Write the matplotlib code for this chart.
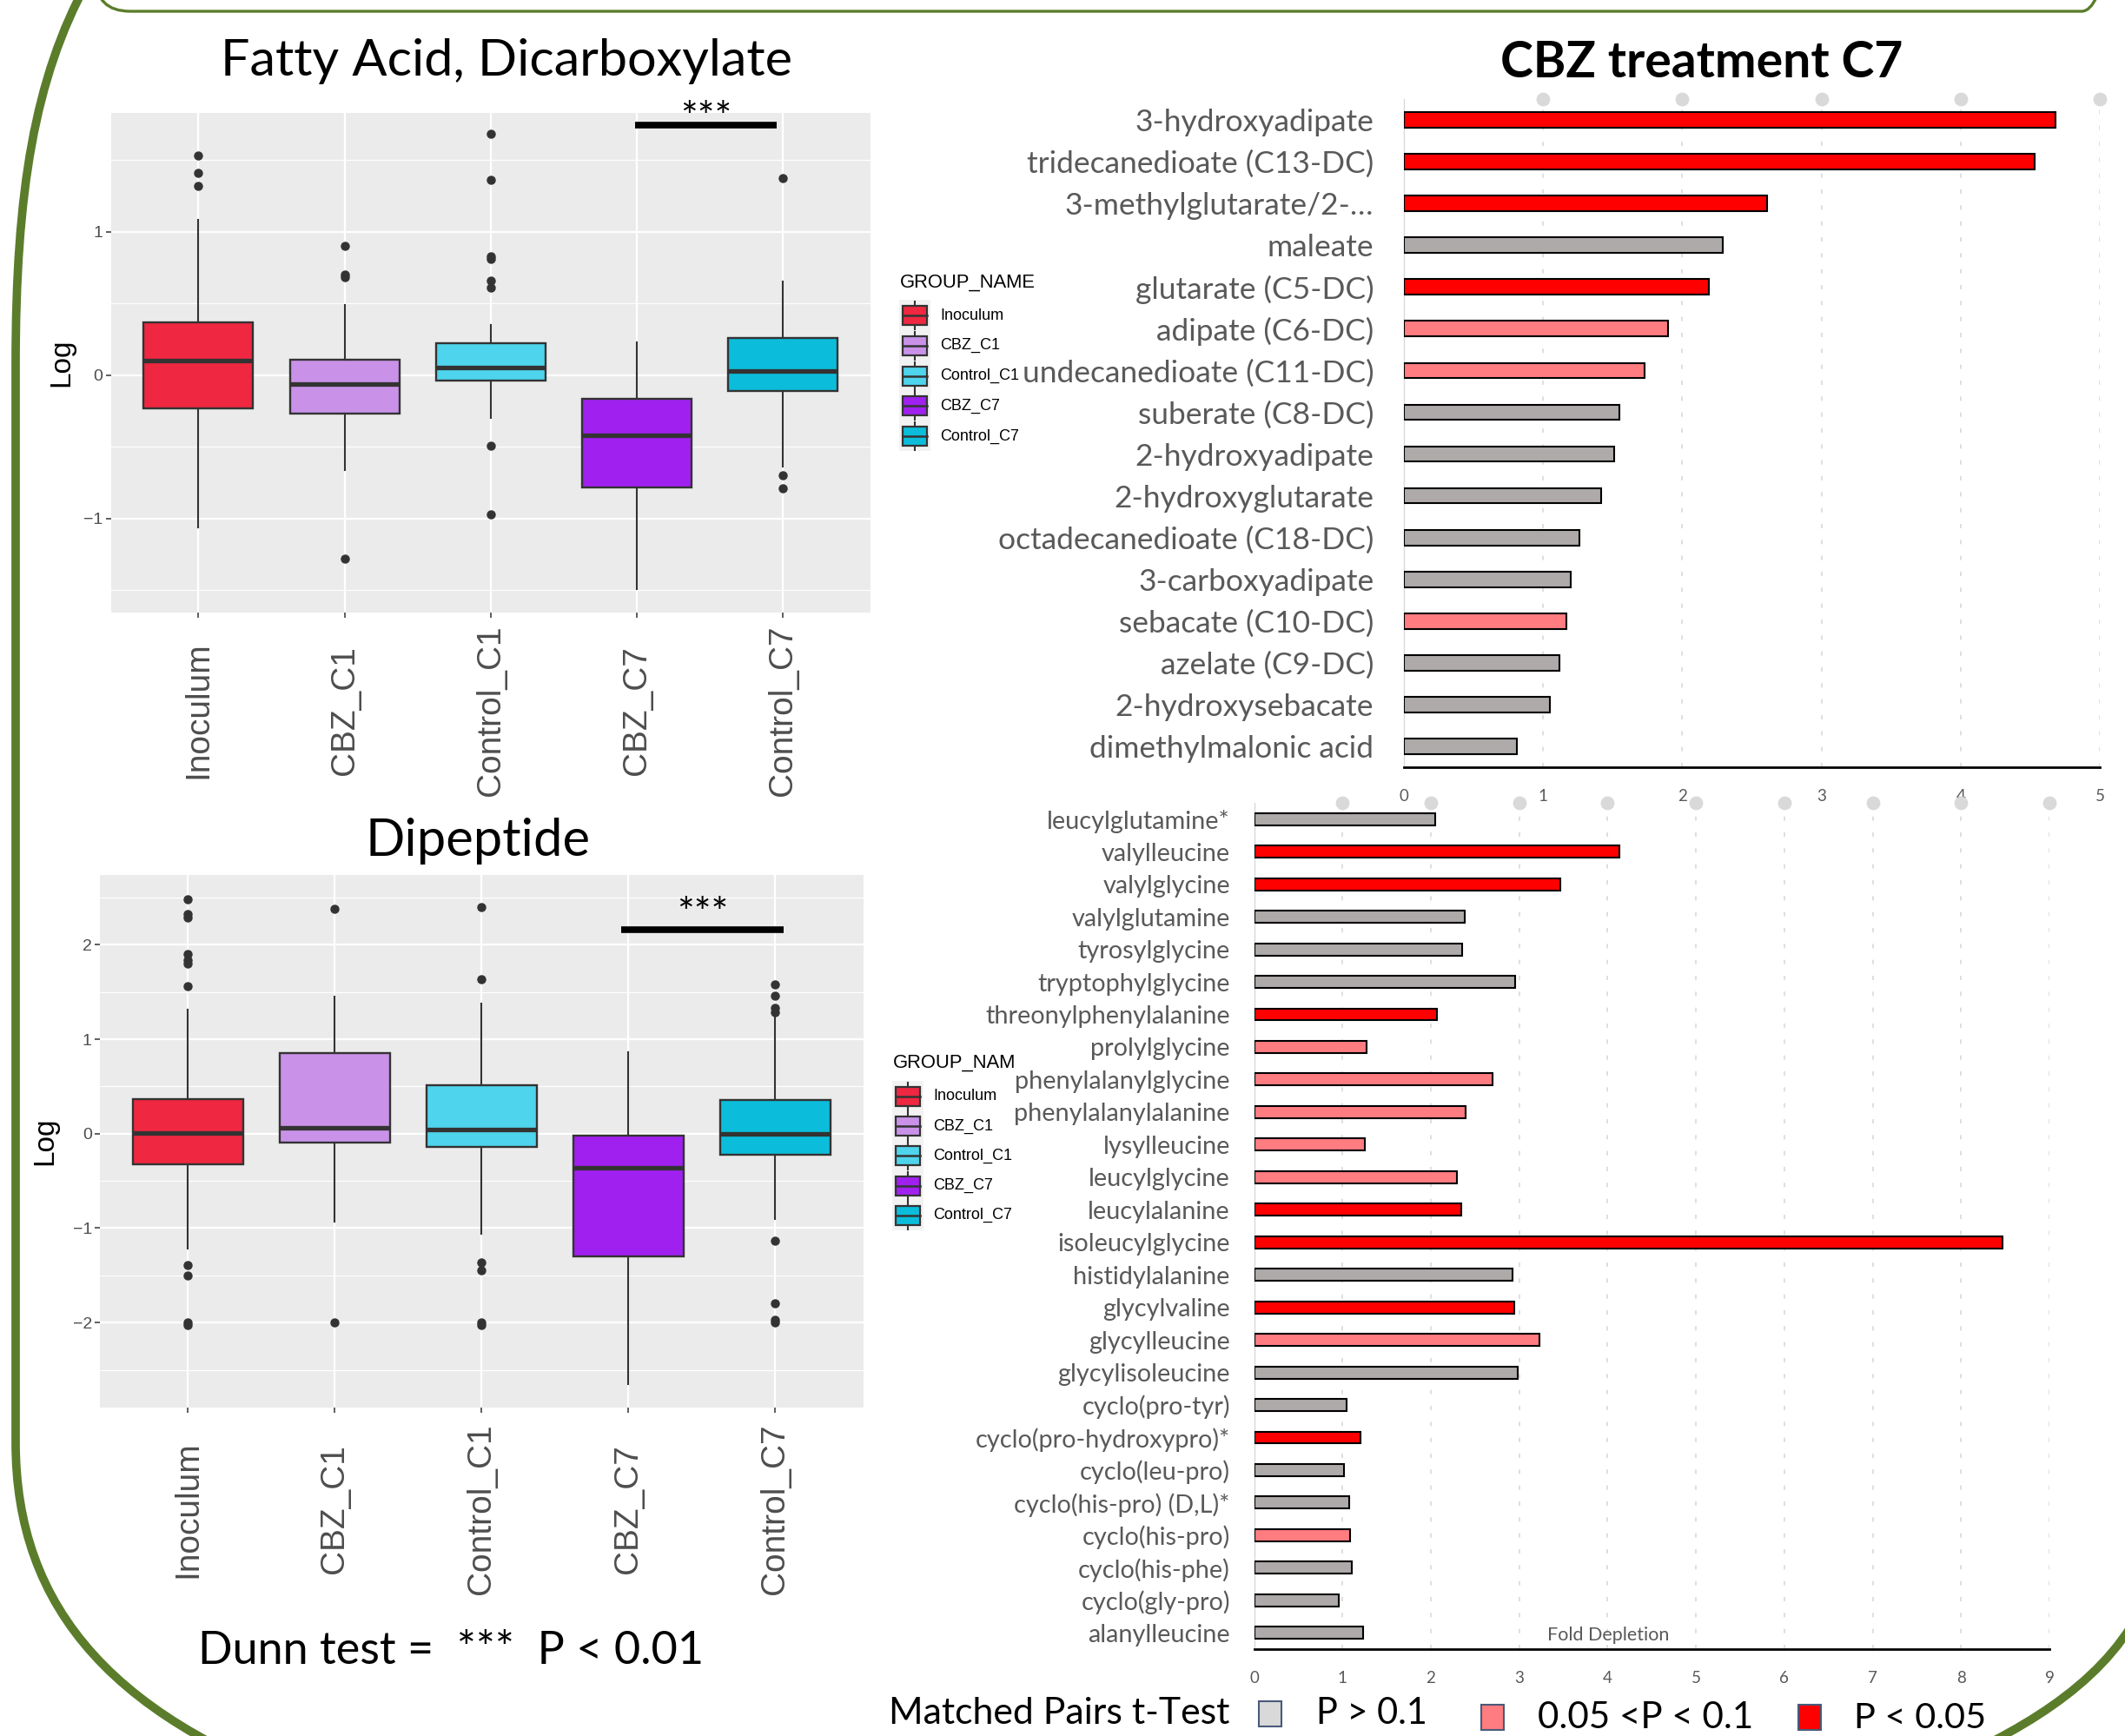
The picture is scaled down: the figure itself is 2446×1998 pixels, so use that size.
import numpy as np
import matplotlib
matplotlib.use("Agg")
import matplotlib.pyplot as plt
from matplotlib.patches import FancyBboxPatch, PathPatch, Rectangle
from matplotlib.path import Path

plt.rcParams['font.family'] = ['Liberation Sans', 'DejaVu Sans']
LATO = ['Lato', 'DejaVu Sans']

# ---------------- data ----------------
groups = ["Inoculum", "CBZ_C1", "Control_C1", "CBZ_C7", "Control_C7"]
group_colors = ["#EF2740", "#C992E8", "#4ED4EC", "#A020F0", "#0BBDDB"]

# Fatty Acid, Dicarboxylate (log values)
fa_q1 = [-0.23, -0.27, -0.04, -0.78, -0.11]
fa_med = [0.10, -0.06, 0.054, -0.42, 0.027]
fa_q3 = [0.37, 0.105, 0.22, -0.165, 0.26]
fa_lo = [-1.06, -0.66, -0.30, -1.49, -0.64]
fa_hi = [1.08, 0.49, 0.35, 0.23, 0.65]
fa_out = [[1.53, 1.41, 1.32],
          [0.90, 0.70, 0.68, -1.28],
          [1.68, 1.36, 0.83, 0.81, 0.66, 0.61, -0.49, -0.97],
          [],
          [1.37, -0.70, -0.79]]

# Dipeptide (log values)
dp_q1 = [-0.32, -0.09, -0.14, -1.295, -0.225]
dp_med = [0.006, 0.064, 0.045, -0.36, 0.0]
dp_q3 = [0.367, 0.857, 0.515, -0.02, 0.36]
dp_lo = [-1.22, -0.93, -1.06, -2.65, -0.90]
dp_hi = [1.31, 1.45, 1.38, 0.863, 1.24]
dp_out = [[2.48, 2.33, 2.29, 1.90, 1.84, 1.80, 1.56, -1.39, -1.50, -2.0, -2.03],
          [2.38, -2.0],
          [2.40, 1.64, -1.36, -1.45, -2.0, -2.03],
          [],
          [1.58, 1.46, 1.33, 1.29, -1.13, -1.80, -1.97, -2.0]]

fa_sig_pair = [3.99, 4.96]
fa_sig_y = 1.745
fa_star_y = 1.785
dp_sig_pair = [3.95, 5.06]
dp_sig_y = 2.16
dp_star_y = 2.32

# CBZ treatment C7 fold depletion
fa_labels = ["3-hydroxyadipate", "tridecanedioate (C13-DC)", "3-methylglutarate/2-\u2026",
             "maleate", "glutarate (C5-DC)", "adipate (C6-DC)", "undecanedioate (C11-DC)",
             "suberate (C8-DC)", "2-hydroxyadipate", "2-hydroxyglutarate",
             "octadecanedioate (C18-DC)", "3-carboxyadipate", "sebacate (C10-DC)",
             "azelate (C9-DC)", "2-hydroxysebacate", "dimethylmalonic acid"]
fa_fold = [4.68, 4.53, 2.61, 2.29, 2.19, 1.90, 1.73, 1.55, 1.51, 1.42, 1.26, 1.20,
           1.17, 1.12, 1.05, 0.81]
fa_sig = ["p05", "p05", "p05", "ns", "p05", "p10", "p10", "ns", "ns", "ns", "ns", "ns",
          "p10", "ns", "ns", "ns"]

dp_labels = ["leucylglutamine*", "valylleucine", "valylglycine", "valylglutamine",
             "tyrosylglycine", "tryptophylglycine", "threonylphenylalanine", "prolylglycine",
             "phenylalanylglycine", "phenylalanylalanine", "lysylleucine", "leucylglycine",
             "leucylalanine", "isoleucylglycine", "histidylalanine", "glycylvaline",
             "glycylleucine", "glycylisoleucine", "cyclo(pro-tyr)", "cyclo(pro-hydroxypro)*",
             "cyclo(leu-pro)", "cyclo(his-pro) (D,L)*", "cyclo(his-pro)", "cyclo(his-phe)",
             "cyclo(gly-pro)", "alanylleucine"]
dp_fold = [2.05, 4.13, 3.46, 2.38, 2.35, 2.95, 2.07, 1.27, 2.70, 2.39, 1.25, 2.29, 2.34,
           8.47, 2.92, 2.94, 3.23, 2.98, 1.05, 1.20, 1.02, 1.08, 1.09, 1.11, 0.96, 1.23]
dp_sig = ["ns", "p05", "p05", "ns", "ns", "ns", "p05", "p10", "p10", "p10", "p10", "p10",
          "p05", "p05", "ns", "p05", "p10", "ns", "ns", "p05", "ns", "ns", "p10", "ns",
          "ns", "ns"]

sig_colors = {"ns": "#AEAAAA", "p10": "#FF7C80", "p05": "#FF0000"}
sig_legend_colors = {"ns": "#D9D9D9", "p10": "#FF7C80", "p05": "#FF0000"}
sig_legend_text = {"ns": "P > 0.1", "p10": "0.05 <P < 0.1", "p05": "P < 0.05"}

GREEN = "#5B7D2B"
LABEL_GRAY = "#595959"

# ---------------- figure ----------------
W, H = 2446, 1998
fig = plt.figure(figsize=(W / 100, H / 100), dpi=100)
fig.patch.set_facecolor("white")


def px_axes(l, t, r, b):
    return fig.add_axes([l / W, 1 - b / H, (r - l) / W, (b - t) / H])


def fit_width(t, target):
    r = fig.canvas.get_renderer()
    for _ in range(3):
        w = t.get_window_extent(renderer=r).width
        if w > 0:
            t.set_fontsize(t.get_fontsize() * target / w)


def box_panel(ax, q1, med, q3, lo, hi, outs, ylim, major, minor, pair, sig_y, star_y,
              ylab_x):
    stats = [dict(med=m, q1=a, q3=b, whislo=l, whishi=h, fliers=np.array(o), label=g)
             for a, m, b, l, h, o, g in zip(q1, med, q3, lo, hi, outs, groups)]
    pos = np.arange(1, len(groups) + 1)
    bp = ax.bxp(stats, positions=pos, widths=0.75, patch_artist=True, showcaps=False,
                boxprops=dict(edgecolor="#333333", linewidth=1.7),
                medianprops=dict(color="#333333", linewidth=3.8, solid_capstyle="butt"),
                whiskerprops=dict(color="#333333", linewidth=1.5),
                flierprops=dict(marker="o", markerfacecolor="#333333",
                                markeredgecolor="#333333", markersize=6.5))
    for patch, c in zip(bp["boxes"], group_colors):
        patch.set_facecolor(c)
    ax.set_facecolor("#EBEBEB")
    ax.set_xlim(0.4, len(groups) + 0.6)
    ax.set_ylim(*ylim)
    ax.set_yticks(major)
    ax.set_yticklabels(["\u22122" if v == -2 else "\u22121" if v == -1 else str(v)
                        for v in major])
    ax.set_yticks(minor, minor=True)
    ax.grid(which="major", color="white", linewidth=1.6)
    ax.grid(which="minor", axis="y", color="white", linewidth=0.8)
    ax.set_axisbelow(True)
    for s in ax.spines.values():
        s.set_visible(False)
    ax.tick_params(axis="both", which="major", color="#333333", length=4, width=1.1,
                   labelcolor="#4D4D4D")
    ax.tick_params(axis="y", which="major", labelsize=14, pad=2.5)
    ax.tick_params(axis="y", which="minor", length=0)
    ax.set_xticks(pos)
    ax.set_xticklabels(groups, rotation=90, fontsize=28)
    ax.set_ylabel("Log", fontsize=24, color="black")
    ax.yaxis.set_label_coords(ylab_x, 0.5)
    ax.plot(pair, [sig_y, sig_y], color="black", linewidth=5.5, solid_capstyle="butt",
            clip_on=False, zorder=5)
    st = ax.text(np.mean(pair), star_y, "***", ha="center", va="center", family=LATO,
                 fontsize=30, clip_on=False, zorder=5)
    return st


# ---- Fatty acid boxplot ----
ax1 = px_axes(127.5, 129.5, 1002, 705)
st1 = box_panel(ax1, fa_q1, fa_med, fa_q3, fa_lo, fa_hi, fa_out, (-1.655, 1.83),
                [-1, 0, 1], [-1.5, -0.5, 0.5, 1.5], fa_sig_pair, fa_sig_y, fa_star_y, -0.0475)
ax1.tick_params(axis="x", pad=77)
for lb in ax1.get_xticklabels():
    lb.set_va("center")

# ---- Dipeptide boxplot ----
ax2 = px_axes(114.8, 1007, 993.6, 1620)
st2 = box_panel(ax2, dp_q1, dp_med, dp_q3, dp_lo, dp_hi, dp_out, (-2.90, 2.74),
                [-2, -1, 0, 1, 2], [-2.5, -1.5, -0.5, 0.5, 1.5, 2.5], dp_sig_pair,
                dp_sig_y, dp_star_y, -0.054)
ax2.tick_params(axis="x", pad=80)
for lb in ax2.get_xticklabels():
    lb.set_va("center")


# ---- bar charts ----
def bar_panel(ax, labels, fold, sig, xmax, label_size, label_pad):
    y = np.arange(len(labels))
    ax.barh(y, fold, height=0.37, color=[sig_colors[s] for s in sig], edgecolor="black",
            linewidth=1.5, zorder=3)
    ax.set_ylim(len(labels) - 0.5, -0.5)
    ax.set_xlim(0, xmax)
    ax.set_yticks(y)
    ax.set_yticklabels(labels, fontsize=label_size, color=LABEL_GRAY, family=LATO)
    ax.tick_params(axis="y", length=0, pad=label_pad)
    ax.set_xticks(np.arange(0, xmax + 1))
    ax.tick_params(axis="x", length=0, pad=18, labelsize=13.5, labelcolor=LABEL_GRAY)
    for lb in ax.get_xticklabels():
        lb.set_family(LATO)
    ax.xaxis.grid(True, color="#D9D9D9", linestyle=(0, (3, 8)), linewidth=1.2, zorder=0)
    ax.set_axisbelow(True)
    for k in ("top", "right"):
        ax.spines[k].set_visible(False)
    ax.spines["left"].set_color("#D9D9D9")
    ax.spines["left"].set_linewidth(1.0)
    ax.spines["bottom"].set_color("black")
    ax.spines["bottom"].set_linewidth(2.0)
    gx = np.arange(1, xmax + 1)
    ax.scatter(gx, np.full(len(gx), -0.5), s=130, color="#D9D9D9", clip_on=False,
               zorder=4, linewidths=0)


ax3 = px_axes(1616, 114, 2417, 883)
bar_panel(ax3, fa_labels, fa_fold, fa_sig, 5, 25.5, 25)
ax4 = px_axes(1443.6, 924, 2359, 1898)
bar_panel(ax4, dp_labels, dp_fold, dp_sig, 9, 20.8, 20)

# ---------------- overlay (figure pixel coordinates) ----------------
ov = fig.add_axes([0, 0, 1, 1])
ov.set_xlim(0, W)
ov.set_ylim(H, 0)
ov.axis("off")
ov.set_zorder(10)

# green decorative frame
ov.add_patch(FancyBboxPatch((110, -300), 2326, 313,
                            boxstyle="round,pad=0,rounding_size=40",
                            fill=False, edgecolor=GREEN, linewidth=2.4))
left_path = Path([(100, -20), (40, 90), (18, 220), (18, 420), (18, 1660),
                  (18, 1850), (130, 1985), (400, 2070)],
                 [Path.MOVETO, Path.CURVE4, Path.CURVE4, Path.CURVE4, Path.LINETO,
                  Path.CURVE4, Path.CURVE4, Path.CURVE4])
ov.add_patch(PathPatch(left_path, fill=False, edgecolor=GREEN, linewidth=7))
right_path = Path([(2470, 1840), (2430, 1930), (2340, 1985), (2240, 2030)],
                  [Path.MOVETO, Path.CURVE4, Path.CURVE4, Path.CURVE4])
ov.add_patch(PathPatch(right_path, fill=False, edgecolor=GREEN, linewidth=7))

# titles
t = ov.text(583, 87, "Fatty Acid, Dicarboxylate", ha="center", va="baseline",
            family=LATO, fontsize=46)
fit_width(t, 658)
t = ov.text(550, 985, "Dipeptide", ha="center", va="baseline", family=LATO, fontsize=46)
fit_width(t, 258)
t = ov.text(1959, 89, "CBZ treatment C7", ha="center", va="baseline", family=LATO,
            fontweight="bold", fontsize=46)
fit_width(t, 462)
t = ov.text(228, 1915, "Dunn test =  ***  P < 0.01", ha="left", va="baseline",
            family=LATO, fontsize=36)
fit_width(t, 582)
fit_width(st1, 59)
fit_width(st2, 60)

# Fold depletion axis text
ov.text(1851, 1882, "Fold Depletion", ha="center", va="center", family=LATO,
        fontsize=15.5, color=LABEL_GRAY)


# GROUP_NAME legends (boxplot glyph keys)
def group_legend(title, tx, ty, bg, key_x, key_y0, key_dy, label_x):
    ov.text(tx, ty, title, fontsize=15.8, ha="left", va="center")
    ov.add_patch(Rectangle((bg[0], bg[1]), bg[2] - bg[0], bg[3] - bg[1],
                           facecolor="#F2F2F2", edgecolor="none", zorder=1))
    for i, (g, c) in enumerate(zip(groups, group_colors)):
        ky = key_y0 + key_dy * i
        ov.plot([key_x, key_x], [ky - 16, ky + 16], color="#333333", lw=1.5, zorder=2)
        ov.add_patch(Rectangle((key_x - 14, ky - 11), 28, 22, facecolor=c,
                               edgecolor="#333333", linewidth=1.6, zorder=3))
        ov.plot([key_x - 14, key_x + 14], [ky, ky], color="#333333", lw=1.8, zorder=4)
        ov.text(label_x, ky, g, fontsize=13, ha="left", va="center")


group_legend("GROUP_NAME", 1036, 325, (1035, 345, 1071, 519), 1052.5, 363, 34.8, 1082)
group_legend("GROUP_NAM", 1028, 1223, (1027, 1244, 1063, 1416), 1045, 1262, 34.2, 1074)

# Matched pairs t-test legend
t = ov.text(1023, 1984, "Matched Pairs t-Test", ha="left", va="baseline", family=LATO,
            fontsize=32)
fit_width(t, 392)
leg_items = [("ns", 1449, 1958, 1515, 1984, 128),
             ("p10", 1704.5, 1962, 1770, 1989, 249),
             ("p05", 2069.7, 1962, 2134, 1989, 152)]
for key, sx, sy, tx, ty, tw in leg_items:
    ov.add_patch(Rectangle((sx, sy), 26, 29, facecolor=sig_legend_colors[key],
                           edgecolor="#4A5A7A", linewidth=1.5))
    t = ov.text(tx, ty, sig_legend_text[key], ha="left", va="baseline", family=LATO,
                fontsize=32)
    fit_width(t, tw)

fig.savefig("out.png", dpi=100)
